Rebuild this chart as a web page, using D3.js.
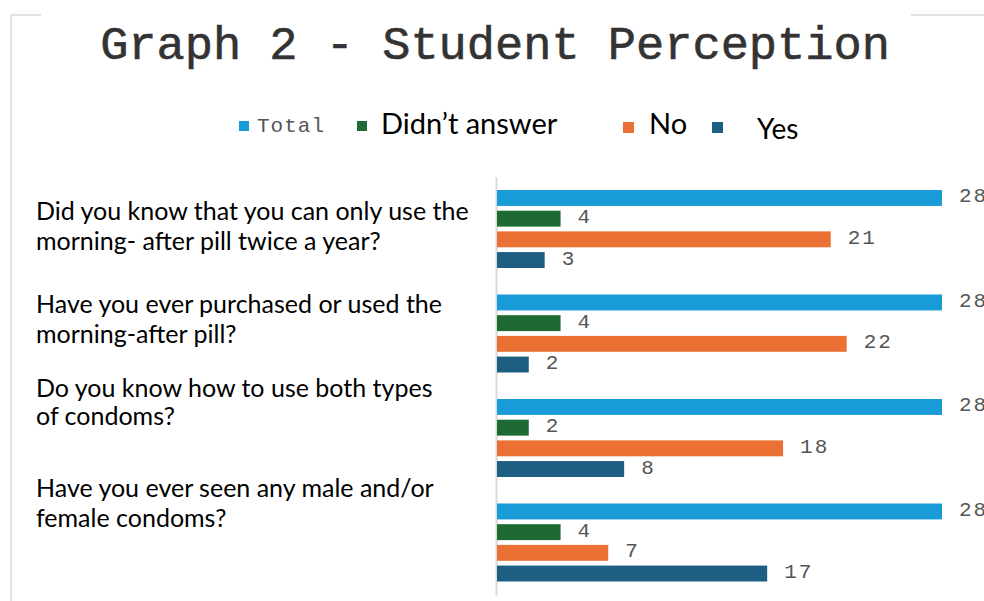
<!DOCTYPE html>
<html>
<head>
<meta charset="utf-8">
<script src="https://cdn.jsdelivr.net/npm/d3@7.9.0/dist/d3.min.js"></script>
<style>
  body { margin: 0; background: #fff; }
  svg { display: block; }
</style>
</head>
<body>
<div id="chart"></div>
<script>
// data
const questions = [
  ['Did you know that you can only use the', 'morning- after pill twice a year?'],
  ['Have you ever purchased or used the', 'morning-after pill?'],
  ['Do you know how to use both types', 'of condoms?'],
  ['Have you ever seen any male and/or', 'female condoms?']
];
const seriesNames = ['Total', 'Didn\u2019t answer', 'No', 'Yes'];
const totalVals = [28, 28, 28, 28];
const didntAnswerVals = [4, 4, 2, 4];
const noVals = [21, 22, 18, 7];
const yesVals = [3, 2, 8, 17];

const colors = ['#189bd6', '#1e6a33', '#ea7034', '#1d5e82'];
const values = [totalVals, didntAnswerVals, noVals, yesVals];

const width = 984;
const height = 601;
const sans = 'Lato, "Open Sans", sans-serif';
const mono = '"Liberation Mono", "DejaVu Sans Mono", monospace';

const svg = d3.select('#chart')
  .append('svg')
  .attr('width', width)
  .attr('height', height);

// frame fragments
svg.append('path')
  .attr('d', 'M41,15H11V601')
  .attr('fill', 'none')
  .attr('stroke', '#e3e3e3')
  .attr('stroke-width', 2);
svg.append('line')
  .attr('x1', 911).attr('x2', 984).attr('y1', 15).attr('y2', 15)
  .attr('stroke', '#e3e3e3')
  .attr('stroke-width', 2);

// title
svg.append('text')
  .attr('x', 495)
  .attr('y', 59)
  .attr('text-anchor', 'middle')
  .attr('font-family', mono)
  .attr('font-size', 47)
  .attr('fill', '#333')
  .attr('stroke', '#333')
  .attr('stroke-width', 0.6)
  .text('Graph 2 - Student Perception');

// legend (layout only)
const legendLayout = [
  { sx: 239, sy: 121, size: 10, tx: 257, ty: 132, font: mono, fs: 21, ls: 1 },
  { sx: 357, sy: 121, size: 10, tx: 381, ty: 134, font: sans, fs: 29, ls: 0 },
  { sx: 623, sy: 122, size: 11, tx: 649, ty: 134, font: sans, fs: 29, ls: 0 },
  { sx: 712, sy: 122, size: 11, tx: 757, ty: 139, font: sans, fs: 28, ls: 0 }
];
const legend = svg.append('g');
seriesNames.forEach((name, i) => {
  const l = legendLayout[i];
  legend.append('rect')
    .attr('x', l.sx).attr('y', l.sy)
    .attr('width', l.size).attr('height', l.size)
    .attr('fill', colors[i]);
  legend.append('text')
    .attr('x', l.tx).attr('y', l.ty)
    .attr('font-family', l.font)
    .attr('font-size', l.fs)
    .attr('letter-spacing', l.ls)
    .attr('fill', i === 0 ? '#555' : '#000')
    .text(name);
});

// scales
const x = d3.scaleLinear()
  .domain([0, d3.max(totalVals)])
  .range([497, 942]);

const yGroup = d3.scaleBand()
  .domain(d3.range(questions.length))
  .range([177, 595]);

const ySeries = d3.scaleBand()
  .domain(d3.range(seriesNames.length))
  .range([13, 91])
  .paddingInner(0.23);

// axis line
svg.append('g')
  .attr('transform', 'translate(496,0)')
  .call(d3.axisLeft(yGroup).tickSize(0).tickFormat('').tickSizeOuter(0))
  .call(g => g.select('.domain').attr('stroke', '#d9d9d9').attr('stroke-width', 2));

// bars
const groups = svg.append('g')
  .selectAll('g')
  .data(questions.map((q, i) => i))
  .join('g')
  .attr('transform', i => `translate(0,${yGroup(i)})`);

groups.selectAll('rect')
  .data(i => values.map((vals, s) => ({ s, v: vals[i] })))
  .join('rect')
  .attr('x', x(0))
  .attr('y', d => ySeries(d.s))
  .attr('width', d => x(d.v) - x(0))
  .attr('height', ySeries.bandwidth())
  .attr('fill', d => colors[d.s]);

groups.selectAll('text.val')
  .data(i => values.map((vals, s) => ({ s, v: vals[i] })))
  .join('text')
  .attr('class', 'val')
  .attr('x', d => x(d.v) + 17)
  .attr('y', d => ySeries(d.s) + ySeries.bandwidth() / 2 - 1)
  .attr('dominant-baseline', 'central')
  .attr('font-family', mono)
  .attr('font-size', 21)
  .attr('letter-spacing', 2)
  .attr('fill', '#555')
  .text(d => d.v);

// question labels (baseline offset from band start, layout only)
const labelOffsets = [43, 31.5, 11, 6.5];
const lineGap = [30, 30, 28, 30];
const labels = svg.append('g');
questions.forEach((lines, i) => {
  lines.forEach((line, j) => {
    labels.append('text')
      .attr('x', 36)
      .attr('y', yGroup(i) + labelOffsets[i] + j * lineGap[i])
      .attr('font-family', sans)
      .attr('font-size', 25)
      .attr('fill', '#000')
      .text(line);
  });
});
</script>
</body>
</html>
